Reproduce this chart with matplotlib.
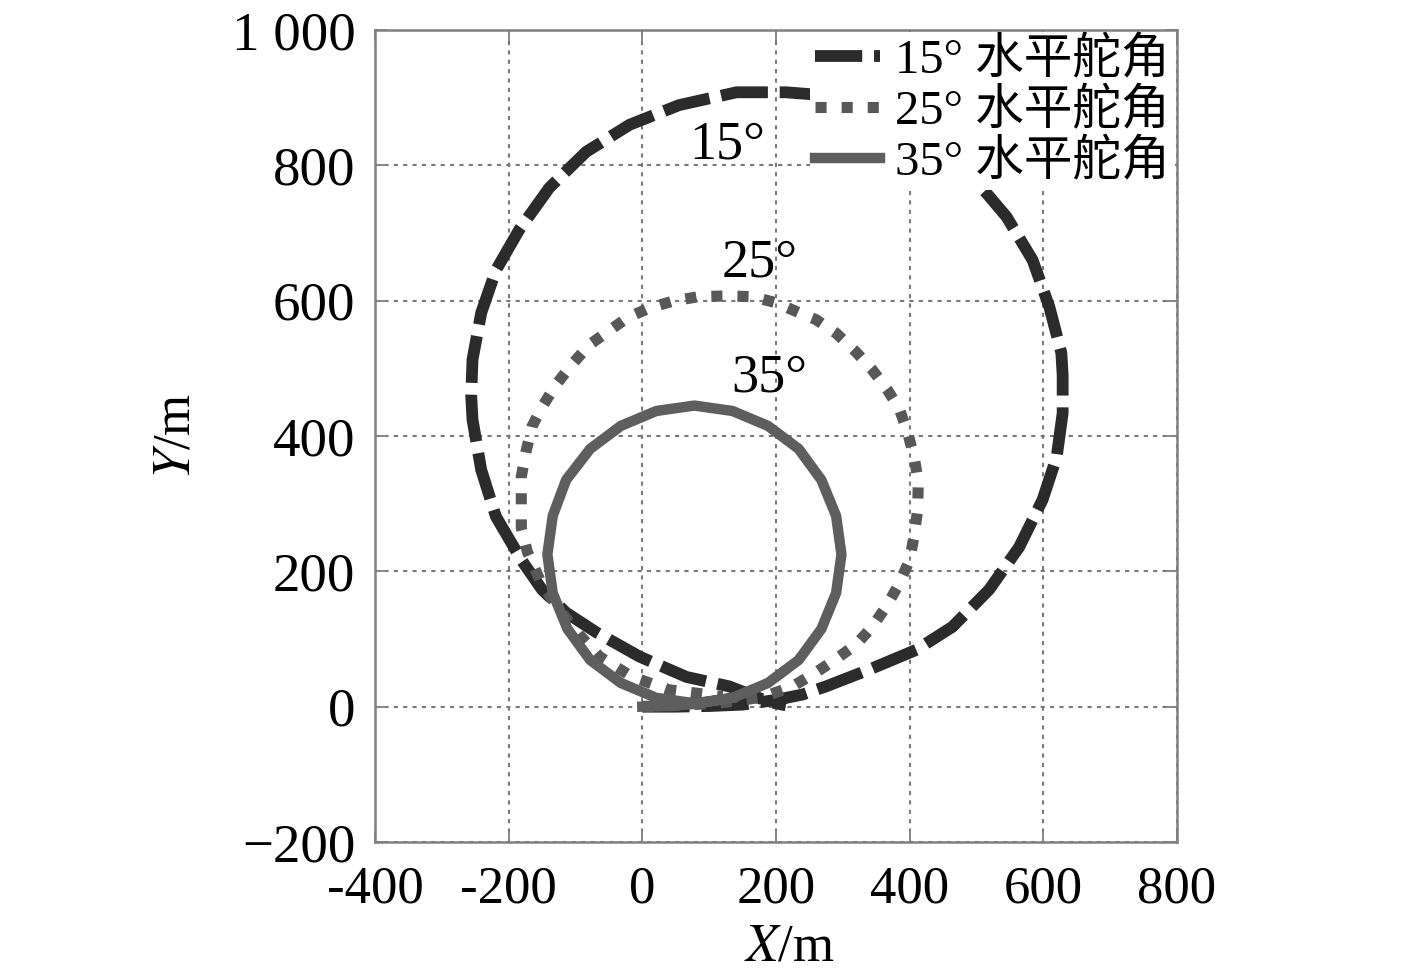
import matplotlib
matplotlib.use("Agg")
import matplotlib.pyplot as plt

plt.rcParams['font.family'] = ['Liberation Serif', 'Noto Sans CJK SC', 'DejaVu Sans']
plt.rcParams['mathtext.fontset'] = 'stix'

# trajectory points (m)
x15 = [0, 50, 100, 150, 200, 240, 275, 340, 410, 464, 519, 564, 599, 620, 629, 629, 627,
       609, 584, 545, 515, 465, 410, 350, 280, 215, 141, 55, -19, -84, -139, -184, -219,
       -241, -254, -256, -254, -241, -219, -181, -150, -114, -69, -4, 66, 130, 190, 215]
y15 = [0, 0, 1, 3, 10, 18, 30, 55, 84, 118, 173, 236, 306, 369, 434, 490, 523,
       591, 660, 724, 759, 810, 855, 885, 903, 908, 908, 889, 860, 820, 767, 705, 645,
       582, 513, 460, 424, 350, 281, 217, 173, 139, 110, 74, 44, 30, 7, 2]

x25 = [0, 60, 120, 180, 225, 262, 292, 320, 344, 367, 385, 400, 407, 412, 413, 407, 397,
       385, 367, 344, 320, 290, 260, 240, 200, 165, 126, 85, 48, 10, -22, -52, -79, -106,
       -129, -150, -165, -174, -181, -181, -181, -172, -150, -120, -93, -64, -15, 40, 81, 120]
y25 = [0, 2, 6, 14, 30, 52, 72, 92, 118, 151, 183, 217, 254, 291, 332, 368, 405,
       439, 468, 498, 524, 552, 572, 580, 597, 606, 607, 606, 600, 589, 575, 554, 535, 505,
       476, 443, 414, 377, 340, 303, 264, 229, 180, 138, 105, 74, 44, 25, 20, 15]

x35 = [0, 40, 78, 135, 188, 234, 268, 290, 298, 290, 268, 234, 188, 135, 78, 21, -32,
       -78, -114, -134, -142, -134, -112, -78, -32, 21, 78, 135]
y35 = [0, 1, 4, 13, 35, 69, 115, 168, 225, 282, 335, 381, 415, 437, 445, 437, 415,
       381, 335, 282, 225, 168, 115, 69, 35, 13, 5, 13]

labels = ['15° 水平舵角', '25° 水平舵角', '35° 水平舵角']

xticks = [-400, -200, 0, 200, 400, 600, 800]
xticklabels = ['-400', '-200', '0', '200', '400', '600', '800']
yticks = [-200, 0, 200, 400, 600, 800, 1000]
yticklabels = ['\u2212200', '0', '200', '400', '600', '800', '1 000']

fig = plt.figure(figsize=(14.17, 9.75), dpi=100)
ax = fig.add_axes([0.2646, 0.1364, 0.5660, 0.8328])

ax.plot(x15, y15, color='#2b2b2b', lw=8.5, ls=(0, (4.0, 1.0)), dash_capstyle='butt',
        dash_joinstyle='round', label=labels[0], zorder=3)
ax.plot(x25, y25, color='#585858', lw=8, ls=(0, (1.0, 1.35)), dash_capstyle='butt',
        label=labels[1], zorder=4)
ax.plot(x35, y35, color='#5e5e5e', lw=7.5, ls='-', solid_joinstyle='round',
        label=labels[2], zorder=5)

ax.text(127, 830, '15°', fontsize=39, ha='center', va='center')
ax.text(175, 655, '25°', fontsize=39, ha='center', va='center')
ax.text(190, 485, '35°', fontsize=39, ha='center', va='center')

ax.set_xlim(-400, 800)
ax.set_ylim(-200, 1000)
ax.set_xticks(xticks)
ax.set_xticklabels(xticklabels)
ax.set_yticks(yticks)
ax.set_yticklabels(yticklabels)
ax.tick_params(axis='x', labelsize=38, pad=17)
ax.tick_params(axis='y', labelsize=39.5, pad=14)
ax.tick_params(direction='in', length=8, width=1.4, color='#888888', top=True, right=True)

ax.grid(True, color='#7a7a7a', lw=1.5, ls=(0, (2, 2.5)))
ax.set_axisbelow(True)
for s in ax.spines.values():
    s.set_color('#808080')
    s.set_linewidth(1.8)

ax.set_xlabel('$\\mathit{X}$/m', fontsize=38)
ax.set_ylabel('$\\mathit{Y}$/m', fontsize=38)
ax.xaxis.set_label_coords(0.517, -0.1)
ax.yaxis.set_label_coords(-0.218, 0.5)

leg = ax.legend(loc='upper right', bbox_to_anchor=(1.0, 1.0), borderaxespad=0.05,
                fontsize=35, handlelength=1.35, handletextpad=0.3, labelspacing=0.1,
                borderpad=0.1, frameon=True, fancybox=False, framealpha=1)
leg.get_frame().set_edgecolor('none')
leg.get_frame().set_facecolor('white')
leg.set_zorder(10)

fig.savefig('out.png', dpi=100)
